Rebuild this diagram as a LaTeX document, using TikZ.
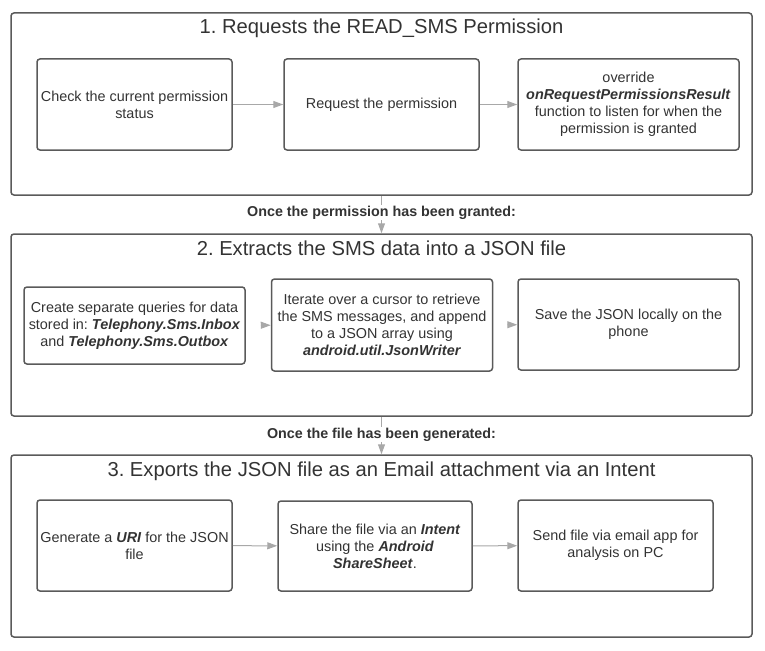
\documentclass[tikz,border=0pt]{standalone}
\usepackage{fontspec}
\setmainfont{Liberation Sans}
\usepackage{xcolor}
\usetikzlibrary{arrows.meta}

\definecolor{linegray}{HTML}{5A5A5A}
\definecolor{arrowgray}{HTML}{A8A8A8}
\definecolor{textgray}{HTML}{333333}

\newcommand{\bi}[1]{\textbf{\textit{#1}}}
\frenchspacing

\begin{document}
\begin{tikzpicture}[x=1pt, y=-1pt, font=\fontsize{14.4}{16.9}\selectfont, text=textgray]
		\tikzstyle{frame} = [draw=linegray, line width=1.5pt, rounded corners=3pt, minimum width=741pt, minimum height=182pt]
		\tikzstyle{heading} = [anchor=base, inner sep=0pt, font=\fontsize{20.2}{24}\selectfont]
		\tikzstyle{block} = [draw=linegray, line width=1.5pt, rounded corners=3pt, align=center, inner sep=2pt, minimum width=195pt, minimum height=91pt]
		\tikzstyle{blockw} = [block, minimum width=221pt]
		\tikzstyle{note} = [fill=white, inner sep=1pt, font=\fontsize{14.3}{17}\selectfont\bfseries]
		\tikzstyle{arrow} = [draw=arrowgray, line width=1pt, -{Triangle[length=10pt, width=7pt]}]
		\tikzstyle{arrowh} = [arrow, shorten <=15pt]
		
		\useasboundingbox (0, 0) rectangle (765, 650);
		
		\node[frame]	at (381.5, 104)		(s1)	{};
		\node[frame]	at (381.5, 325)		(s2)	{};
		\node[frame]	at (381.5, 546)		(s3)	{};
		
		\node[heading]	at (381.5, 33.5)	(h1)	{1. Requests the READ\_SMS Permission};
		\node[heading]	at (381.5, 255)		(h2)	{2. Extracts the SMS data into a JSON file};
		\node[heading]	at (381.5, 476)		(h3)	{3. Exports the JSON file as an Email attachment via an Intent};
		
		\node[block]	at (134.5, 104.5)	(q1)	{Check the current permission \\ status};
		\node[block]	at (381.5, 104.5)	(q2)	{Request the permission};
		\node[blockw]	at (628.5, 104.5)	(q3)	{override \\ \bi{onRequestPermissionsResult} \\ function to listen for when the \\ permission is granted};
		
		\node[blockw, minimum height=77pt]	at (134.5, 325.5)	(q4)	{Create separate queries for data \\ stored in: \bi{Telephony.Sms.Inbox} \\ and \bi{Telephony.Sms.Outbox}};
		\node[blockw, minimum height=92pt]	at (382, 325)		(q5)	{Iterate over a cursor to retrieve \\ the SMS messages, and append \\ to a JSON array using \\ \bi{android.util.JsonWriter}};
		\node[blockw]	at (628.5, 324.5)	(q6)	{Save the JSON locally on the \\ phone};
		
		\node[block]	at (134.5, 545.5)	(q7)	{Generate a \bi{URI} for the JSON \\ file};
		\node[block, minimum width=194pt, minimum height=90pt]	at (375, 546)	(q8)	{Share the file via an \bi{Intent} \\ using the \bi{Android} \\ \bi{ShareSheet}.};
		\node[block]	at (615.5, 545.5)	(q9)	{Send file via email app for \\ analysis on PC};
		
		\draw [arrow] (s1) -- node[note, pos=0.45] {Once the permission has been granted:} (s2);
		\draw [arrow] (s2) -- node[note, pos=0.47] {Once the file has been generated:} (s3);
		
		\draw [arrow]  (q1) -- (q2);
		\draw [arrow]  (q2) -- (q3);
		\draw [arrowh] (q4) -- (q5);
		\draw [arrowh] (q5) -- (q6);
		\draw [arrow]  (q7) -- (q8);
		\draw [arrow]  (q8) -- (q9);
		
	\end{tikzpicture}
\end{document}
